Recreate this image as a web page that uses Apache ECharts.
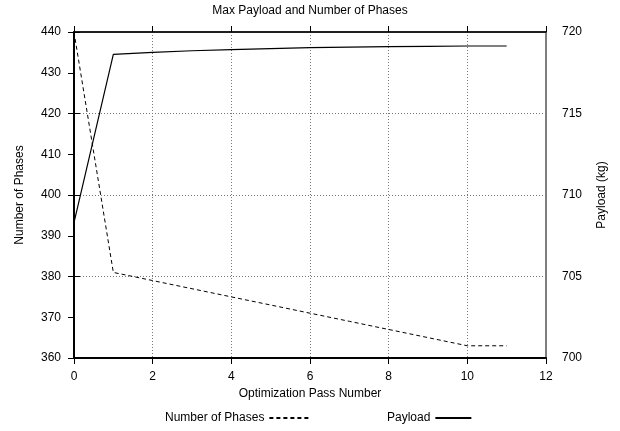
<!DOCTYPE html>
<html>
<head>
<meta charset="utf-8">
<script src="https://cdn.jsdelivr.net/npm/echarts@6/dist/echarts.min.js"></script>
<style>
  html, body { margin: 0; padding: 0; background: #fff; }
  #chart { width: 620px; height: 431px; }
</style>
</head>
<body>
<div id="chart"></div>
<script>
// Optimization history: phase count and max payload per pass
const passes = [0, 1, 2, 3, 4, 5, 6, 7, 8, 9, 10, 11];
const phaseCount = [440, 381, 379, 377, 375, 373, 371, 369, 367, 365, 363, 363];
const payloadKg = [708.3, 718.63, 718.75, 718.85, 718.92, 718.98, 719.04, 719.07, 719.10, 719.12, 719.14, 719.14];

const FONT = 'Liberation Sans';
const chart = echarts.init(document.getElementById('chart'), null, { renderer: 'canvas' });

const textBase = { fontFamily: FONT, fontSize: 12, color: '#000' };
const tickStyle = { show: true, inside: false, length: 6, lineStyle: { color: '#000', width: 1 } };
const dotted = { show: true, lineStyle: { color: '#777', type: [1, 2], width: 1 } };

chart.setOption({
  animation: false,
  backgroundColor: '#fff',
  textStyle: { fontFamily: FONT },
  title: {
    text: 'Max Payload and Number of Phases',
    left: 'center',
    top: 0,
    textStyle: Object.assign({ fontWeight: 'normal' }, textBase)
  },
  grid: {
    left: 74, right: 74, top: 32, bottom: 73,
    show: true, borderColor: '#000', borderWidth: 1, backgroundColor: 'transparent'
  },
  legend: [
    {
      data: ['Number of Phases'],
      left: 160, top: 407,
      align: 'right',
      itemWidth: 40, itemHeight: 14, itemGap: 0,
      itemStyle: { opacity: 0 },
      textStyle: textBase
    },
    {
      data: ['Payload'],
      left: 382, top: 407,
      align: 'right',
      itemWidth: 36, itemHeight: 14, itemGap: 0,
      itemStyle: { opacity: 0 },
      textStyle: textBase
    }
  ],
  xAxis: [
    {
      type: 'value', min: 0, max: 12, interval: 2,
      name: 'Optimization Pass Number',
      nameLocation: 'middle', nameGap: 28,
      nameTextStyle: textBase,
      axisLine: { lineStyle: { color: '#000', width: 2 } },
      axisTick: tickStyle,
      axisLabel: Object.assign({ margin: 13 }, textBase),
      splitLine: dotted
    },
    {
      type: 'value', min: 0, max: 12, interval: 2, position: 'top',
      axisLine: { lineStyle: { color: '#000', width: 1.5 } },
      axisTick: tickStyle,
      axisLabel: { show: false },
      splitLine: { show: false }
    }
  ],
  yAxis: [
    {
      type: 'value', min: 360, max: 440, interval: 10,
      name: 'Number of Phases',
      nameLocation: 'middle', nameGap: 48, nameRotate: 90,
      nameTextStyle: textBase,
      axisLine: { show: true, lineStyle: { color: '#000', width: 2 } },
      axisTick: tickStyle,
      axisLabel: Object.assign({ margin: 13 }, textBase),
      splitLine: { show: false }
    },
    {
      type: 'value', min: 700, max: 720, interval: 5, position: 'right',
      name: 'Payload (kg)',
      nameLocation: 'middle', nameGap: 50, nameRotate: 90,
      nameTextStyle: textBase,
      axisLine: { show: true, lineStyle: { color: '#000', width: 1 } },
      axisTick: tickStyle,
      axisLabel: Object.assign({ margin: 16 }, textBase),
      splitLine: dotted
    }
  ],
  series: [
    {
      name: 'Number of Phases',
      type: 'line',
      xAxisIndex: 0, yAxisIndex: 0,
      data: passes.map((p, i) => [p, phaseCount[i]]),
      symbol: 'none',
      lineStyle: { color: '#000', width: 1, type: [4, 3] },
      itemStyle: { color: '#000' }
    },
    {
      name: 'Payload',
      type: 'line',
      xAxisIndex: 0, yAxisIndex: 1,
      data: passes.map((p, i) => [p, payloadKg[i]]),
      symbol: 'none',
      lineStyle: { color: '#000', width: 1.2, type: 'solid' },
      itemStyle: { color: '#000' }
    }
  ]
});
</script>
</body>
</html>
